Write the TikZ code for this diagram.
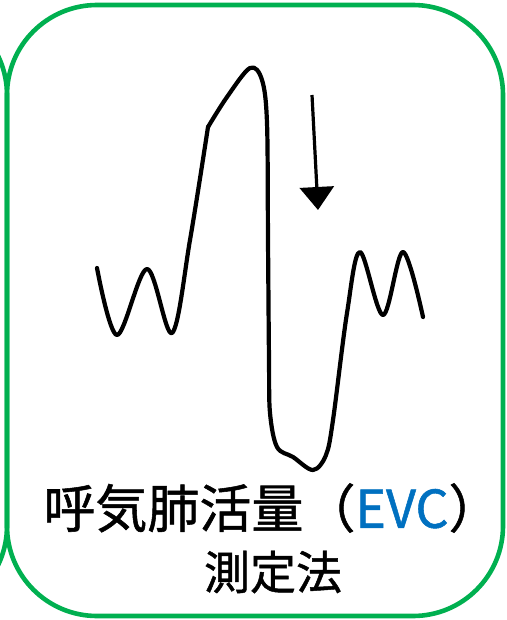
\documentclass[tikz,border=0pt]{standalone}
\usepackage{fontspec}
\newfontfamily\cjk[FakeBold=1]{Noto Sans CJK JP}
\usetikzlibrary{arrows.meta}
\definecolor{boxgreen}{HTML}{00B050}
\definecolor{evcblue}{HTML}{0070C0}
\tikzset{
  frame/.style={draw=boxgreen, line width=4.6pt, rounded corners=90pt},
  wave/.style={draw=black, line width=4.2pt, line join=round, line cap=round},
  pointer/.style={draw=black, line width=3.2pt, -{Triangle[width=34pt,length=23pt]}},
  title/.style={font=\cjk\fontsize{52}{60}\selectfont, inner sep=0pt, anchor=center},
  subtitle/.style={font=\cjk\fontsize{46}{54}\selectfont, inner sep=0pt, anchor=center}
}
\begin{document}
\begin{tikzpicture}[x=1pt, y=-1pt]
\useasboundingbox (0,0) rectangle (506,620);
\begin{scope}
\clip (0,0) rectangle (506,620);
\draw[frame] (-489,5) rectangle (7,616);
\draw[frame] (7,5) rectangle (503,616);
\end{scope}
\draw[wave] plot[smooth, tension=0.55] coordinates {(97,268) (117,335) (147,269) (172,333) (190,240) (208,127)};
\draw[wave] plot[smooth, tension=0.55] coordinates {(208,127) (227,97) (250,68) (262,80) (267,123) (268,240) (269,360) (270,413) (277,447) (293,457) (313,470) (326,455) (333,420) (347,313) (360,252) (383,315) (403,252) (423,317)};
\coordinate (a1) at (312,95);
\coordinate (a2) at (318,210);
\draw[pointer] (a1) -- (a2);
\node[title] (t1) at (272,508) {呼気肺活量（\textcolor{evcblue}{EVC}）};
\node[subtitle] (t2) at (273,572) {測定法};
\end{tikzpicture}
\end{document}
